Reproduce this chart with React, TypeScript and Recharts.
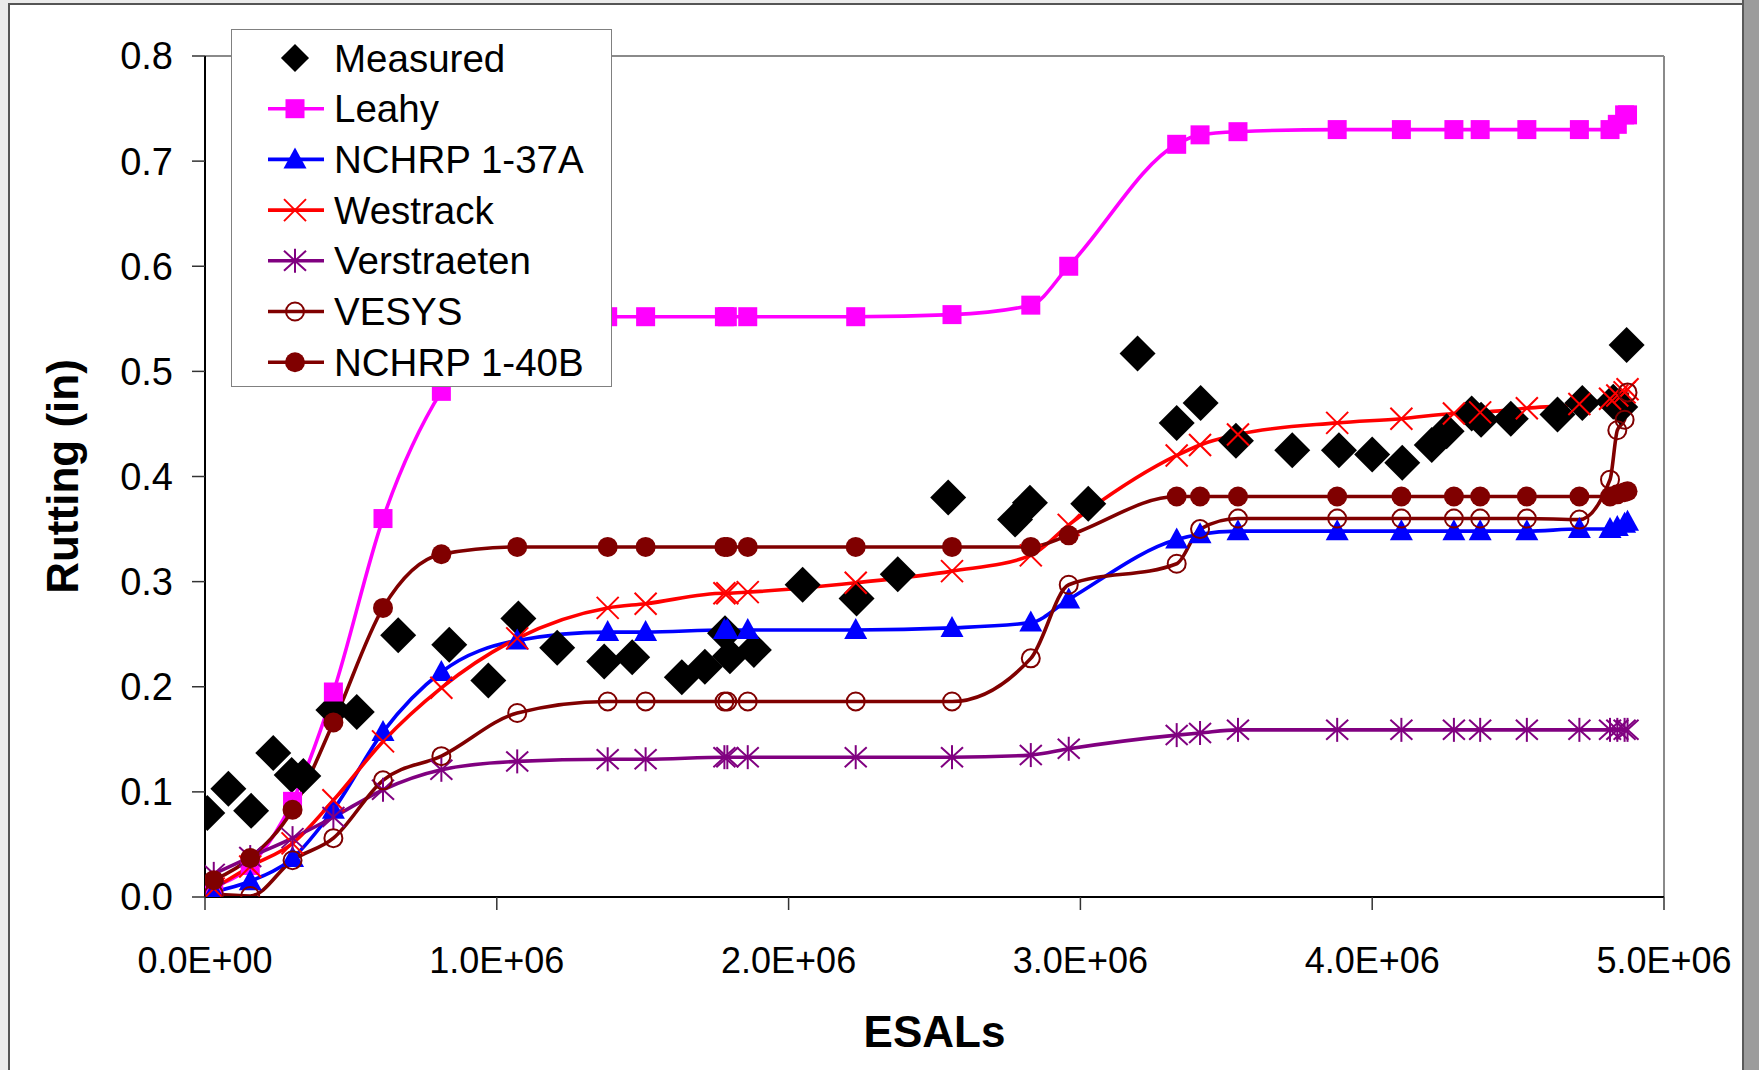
import React from 'react';
import { ComposedChart, Line, Scatter, XAxis, YAxis, ReferenceLine } from 'recharts';

const FONT = '"Liberation Sans", Arial, Helvetica, sans-serif';

// ESAL levels at which the models were evaluated
const esals = [
  0.03e6, 0.155e6, 0.3e6, 0.44e6, 0.61e6, 0.81e6, 1.07e6, 1.38e6, 1.51e6, 1.78e6,
  1.79e6, 1.86e6, 2.23e6, 2.56e6, 2.83e6, 2.96e6, 3.33e6, 3.41e6, 3.54e6, 3.88e6,
  4.1e6, 4.28e6, 4.37e6, 4.53e6, 4.71e6, 4.815e6, 4.84e6, 4.865e6, 4.875e6,
];

const leahy = [
  0.01, 0.03, 0.091, 0.195, 0.36, 0.481, 0.545, 0.552, 0.552, 0.552,
  0.552, 0.552, 0.552, 0.554, 0.563, 0.6, 0.716, 0.725, 0.728, 0.73,
  0.73, 0.73, 0.73, 0.73, 0.73, 0.73, 0.735, 0.744, 0.744,
];

const nchrp137a = [
  0.005, 0.015, 0.037, 0.083, 0.157, 0.214, 0.244, 0.252, 0.252, 0.254,
  0.254, 0.254, 0.254, 0.256, 0.261, 0.283, 0.34, 0.345, 0.348, 0.348,
  0.348, 0.348, 0.348, 0.348, 0.35, 0.35, 0.352, 0.355, 0.357,
];

const westrack = [
  0.008, 0.029, 0.051, 0.092, 0.148, 0.199, 0.246, 0.275, 0.279, 0.289,
  0.289, 0.29, 0.299, 0.31, 0.325, 0.354, 0.42, 0.43, 0.44, 0.451,
  0.455, 0.46, 0.461, 0.465, 0.469, 0.474, 0.477, 0.48, 0.483,
];

const verstraeten = [
  0.022, 0.038, 0.056, 0.076, 0.102, 0.121, 0.129, 0.131, 0.131, 0.133,
  0.133, 0.133, 0.133, 0.133, 0.135, 0.141, 0.154, 0.156, 0.159, 0.159,
  0.159, 0.159, 0.159, 0.159, 0.159, 0.159, 0.159, 0.159, 0.159,
];

const vesys = [
  0.003, 0.001, 0.035, 0.056, 0.111, 0.134, 0.175, 0.186, 0.186, 0.186,
  0.186, 0.186, 0.186, 0.186, 0.227, 0.297, 0.317, 0.35, 0.36, 0.36,
  0.36, 0.36, 0.36, 0.36, 0.359, 0.397, 0.444, 0.454, 0.48,
];

const nchrp140b = [
  0.016, 0.037, 0.083, 0.166, 0.275, 0.326, 0.333, 0.333, 0.333, 0.333,
  0.333, 0.333, 0.333, 0.333, 0.333, 0.344, 0.381, 0.381, 0.381, 0.381,
  0.381, 0.381, 0.381, 0.381, 0.381, 0.381, 0.383, 0.385, 0.386,
];

// field measurements
const measuredEsals = [
  0.008e6, 0.08e6, 0.158e6, 0.234e6, 0.297e6, 0.337e6, 0.44e6, 0.52e6, 0.662e6, 0.837e6,
  0.971e6, 1.074e6, 1.207e6, 1.368e6, 1.464e6, 1.634e6, 1.713e6, 1.782e6, 1.799e6, 1.881e6,
  2.048e6, 2.233e6, 2.374e6, 2.547e6, 2.776e6, 2.827e6, 3.027e6, 3.196e6, 3.33e6, 3.412e6,
  3.533e6, 3.726e6, 3.886e6, 4.0e6, 4.103e6, 4.204e6, 4.255e6, 4.341e6, 4.373e6, 4.475e6,
  4.635e6, 4.72e6, 4.826e6, 4.85e6, 4.872e6,
];
const measuredRut = [
  0.08, 0.103, 0.082, 0.137, 0.116, 0.115, 0.178, 0.176, 0.249, 0.24,
  0.206, 0.265, 0.237, 0.224, 0.228, 0.209, 0.219, 0.251, 0.229, 0.235,
  0.297, 0.284, 0.307, 0.38, 0.359, 0.375, 0.374, 0.517, 0.451, 0.47,
  0.434, 0.425, 0.425, 0.421, 0.413, 0.43, 0.443, 0.46, 0.454, 0.455,
  0.459, 0.47, 0.471, 0.466, 0.525,
];

const yTicks = [0, 0.1, 0.2, 0.3, 0.4, 0.5, 0.6, 0.7, 0.8];
const xTicks = [0, 1e6, 2e6, 3e6, 4e6, 5e6];

const modelData = esals.map((x, i) => ({
  x,
  leahy: leahy[i],
  nchrp137a: nchrp137a[i],
  westrack: westrack[i],
  verstraeten: verstraeten[i],
  vesys: vesys[i],
  nchrp140b: nchrp140b[i],
}));
const measuredData = measuredEsals.map((x, i) => ({ x, y: measuredRut[i] }));

type Kind = 'diamond' | 'square' | 'triangle' | 'cross' | 'star' | 'ring' | 'dot';

const series: { key: string; name: string; color: string; kind: Kind }[] = [
  { key: 'leahy', name: 'Leahy', color: '#FF00FF', kind: 'square' },
  { key: 'nchrp137a', name: 'NCHRP 1-37A', color: '#0000FF', kind: 'triangle' },
  { key: 'westrack', name: 'Westrack', color: '#FF0000', kind: 'cross' },
  { key: 'verstraeten', name: 'Verstraeten', color: '#800080', kind: 'star' },
  { key: 'vesys', name: 'VESYS', color: '#800000', kind: 'ring' },
  { key: 'nchrp140b', name: 'NCHRP 1-40B', color: '#800000', kind: 'dot' },
];

function Marker({ kind, cx, cy, color, scale = 1 }: { kind: Kind; cx: number; cy: number; color: string; scale?: number }) {
  if (cx == null || cy == null) return null;
  const s = scale;
  switch (kind) {
    case 'diamond': {
      const r = 18 * s;
      return <polygon points={`${cx},${cy - r} ${cx + r},${cy} ${cx},${cy + r} ${cx - r},${cy}`} fill={color} />;
    }
    case 'square':
      return <rect x={cx - 9.5} y={cy - 9.5} width={19} height={19} fill={color} />;
    case 'triangle':
      return <polygon points={`${cx},${cy - 12} ${cx + 11.5},${cy + 9} ${cx - 11.5},${cy + 9}`} fill={color} />;
    case 'cross':
      return (
        <g stroke={color} strokeWidth={2}>
          <line x1={cx - 11} y1={cy - 11} x2={cx + 11} y2={cy + 11} />
          <line x1={cx - 11} y1={cy + 11} x2={cx + 11} y2={cy - 11} />
        </g>
      );
    case 'star':
      return (
        <g stroke={color} strokeWidth={2}>
          <line x1={cx - 11} y1={cy - 10} x2={cx + 11} y2={cy + 10} />
          <line x1={cx - 11} y1={cy + 10} x2={cx + 11} y2={cy - 10} />
          <line x1={cx} y1={cy - 12} x2={cx} y2={cy + 12} />
        </g>
      );
    case 'ring':
      return <circle cx={cx} cy={cy} r={9} fill="none" stroke={color} strokeWidth={2} />;
    case 'dot':
      return <circle cx={cx} cy={cy} r={10} fill={color} />;
  }
  return null;
}

const dotRenderer = (kind: Kind, color: string) => (props: any) => (
  <Marker key={`${kind}-${props.index}`} kind={kind} cx={props.cx} cy={props.cy} color={color} />
);

const formatEsal = (v: number) => {
  if (v === 0) return '0.0E+00';
  const exp = Math.floor(Math.log10(v));
  const mant = v / Math.pow(10, exp);
  return `${mant.toFixed(1)}E+${String(exp).padStart(2, '0')}`;
};

const XTitle = (props: any) => {
  const vb = props.viewBox || { x: 205, y: 897, width: 1459, height: 60 };
  return (
    <text x={vb.x + vb.width / 2} y={vb.y + 150} textAnchor="middle"
      style={{ fontFamily: FONT, fontSize: 44, fontWeight: 'bold', fill: '#000' }}>
      ESALs
    </text>
  );
};

const YTitle = (props: any) => {
  const vb = props.viewBox || { x: 105, y: 56, width: 100, height: 841 };
  const x = vb.x - 27;
  const y = vb.y + vb.height / 2;
  return (
    <text x={x} y={y} textAnchor="middle" transform={`rotate(-90, ${x}, ${y})`}
      style={{ fontFamily: FONT, fontSize: 44, fontWeight: 'bold', fill: '#000' }}>
      Rutting (in)
    </text>
  );
};

const ChartLegend = () => {
  const rows = [{ name: 'Measured', color: '#000', kind: 'diamond' as Kind, line: false }].concat(
    series.map(s => ({ name: s.name, color: s.color, kind: s.kind, line: true }))
  );
  return (
    <div style={{
      position: 'absolute', left: 231, top: 29, width: 379, height: 356,
      border: '1.5px solid #808080', background: '#fff',
    }}>
      <svg width={379} height={356}>
        {rows.map((r, i) => {
          const cy = 28 + i * 50.7;
          return (
            <g key={r.name}>
              {r.line && <line x1={36} x2={92} y1={cy} y2={cy} stroke={r.color} strokeWidth={3.6} />}
              <Marker kind={r.kind} cx={63} cy={cy} color={r.color} scale={0.78} />
              <text x={102} y={cy + 13.5} style={{ fontFamily: FONT, fontSize: 38.5, fill: '#000' }}>{r.name}</text>
            </g>
          );
        })}
      </svg>
    </div>
  );
};

export default function App() {
  return (
    <div style={{ position: 'absolute', left: 0, top: 0, width: 1759, height: 1070, background: '#ebebeb', overflow: 'hidden' }}>
      <div style={{
        position: 'absolute', left: 8, top: 3, width: 1735, height: 1100, background: '#fff',
        borderLeft: '2px solid #555', borderTop: '2px solid #555',
      }} />
      <div style={{ position: 'absolute', left: 1742, top: 0, width: 17, height: 1070, background: '#9c9c9c', borderLeft: '2px solid #5a5a5a' }} />
      <div style={{ position: 'absolute', left: 0, top: 0 }}>
        <ComposedChart width={1759} height={1070} data={modelData}
          margin={{ top: 56, right: 95, bottom: 113, left: 105 }}>
          <XAxis dataKey="x" type="number" domain={[0, 5e6]} ticks={xTicks} interval={0}
            tickFormatter={formatEsal} height={60} tickSize={13} tickMargin={37}
            axisLine={{ stroke: '#000', strokeWidth: 2 }} tickLine={{ stroke: '#333', strokeWidth: 1.5 }}
            tick={{ fill: '#000', fontSize: 36, fontFamily: FONT }}
            label={<XTitle />} allowDataOverflow />
          <YAxis type="number" domain={[0, 0.8]} ticks={yTicks} interval={0}
            tickFormatter={(v: number) => v.toFixed(1)} width={100} tickSize={13} tickMargin={19}
            axisLine={{ stroke: '#000', strokeWidth: 2 }} tickLine={{ stroke: '#333', strokeWidth: 1.5 }}
            tick={{ fill: '#000', fontSize: 38, fontFamily: FONT }}
            label={<YTitle />} allowDataOverflow />
          <ReferenceLine y={0.8} stroke="#8a8a8a" strokeWidth={2} />
          <ReferenceLine x={5e6} stroke="#8a8a8a" strokeWidth={2} />
          <Scatter data={measuredData} dataKey="y" name="Measured" isAnimationActive={false}
            shape={(p: any) => <Marker kind="diamond" cx={p.cx} cy={p.cy} color="#000" />} />
          {series.map(s => (
            <Line key={s.key} dataKey={s.key} name={s.name} type="monotone" stroke={s.color}
              strokeWidth={3.6} dot={dotRenderer(s.kind, s.color)} activeDot={false}
              isAnimationActive={false} />
          ))}
        </ComposedChart>
      </div>
      <ChartLegend />
    </div>
  );
}
